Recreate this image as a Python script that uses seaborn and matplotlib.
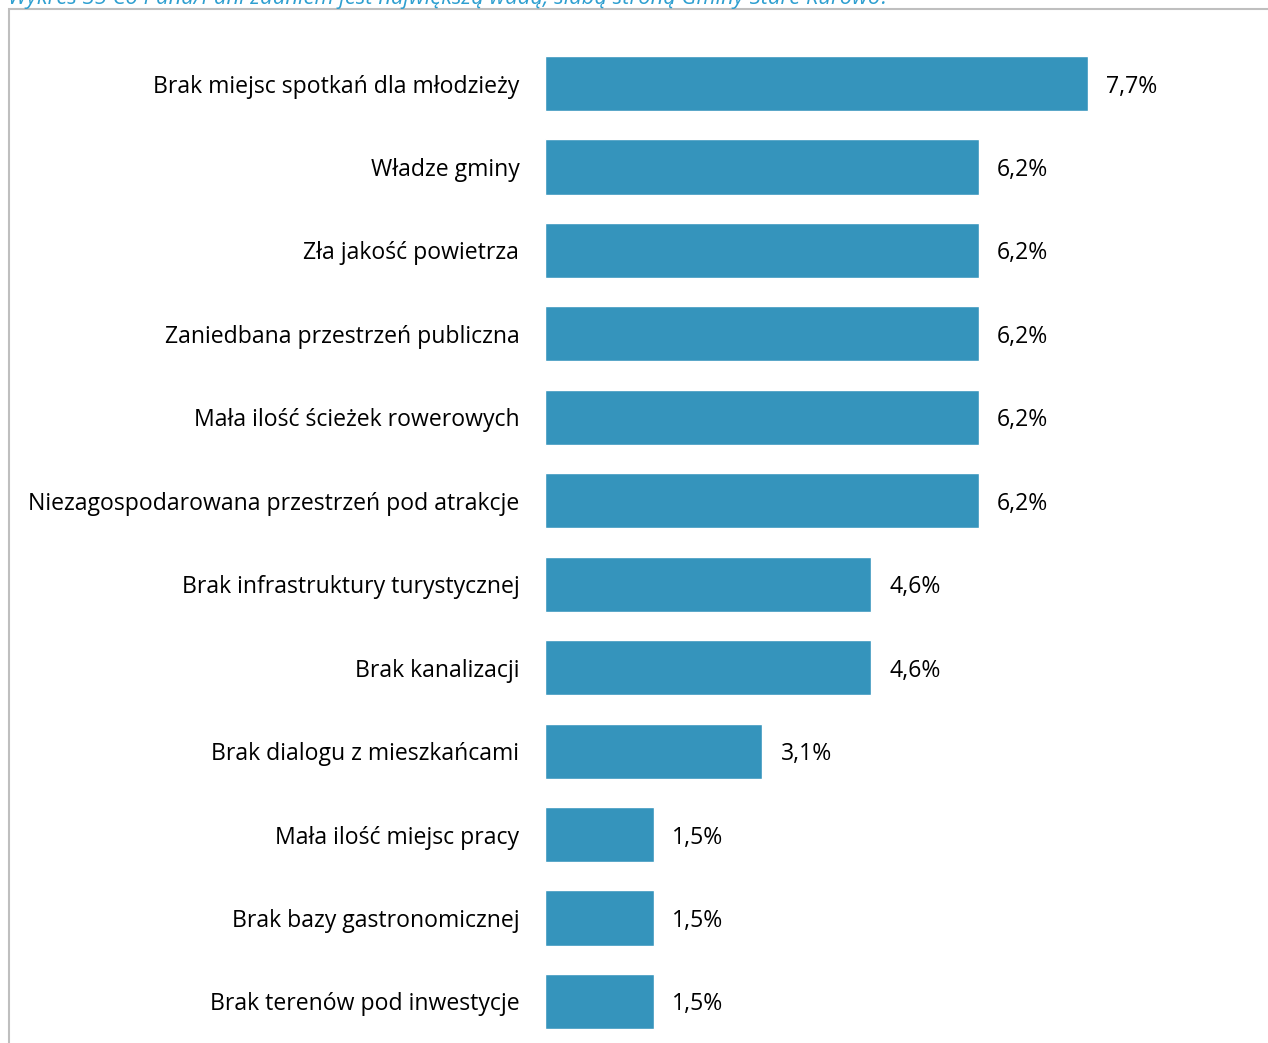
import matplotlib
matplotlib.use("Agg")
import matplotlib.pyplot as plt
from matplotlib.patches import Rectangle
import pandas as pd
import seaborn as sns

categories = [
    "Brak miejsc spotkań dla młodzieży",
    "Władze gminy",
    "Zła jakość powietrza",
    "Zaniedbana przestrzeń publiczna",
    "Mała ilość ścieżek rowerowych",
    "Niezagospodarowana przestrzeń pod atrakcje",
    "Brak infrastruktury turystycznej",
    "Brak kanalizacji",
    "Brak dialogu z mieszkańcami",
    "Mała ilość miejsc pracy",
    "Brak bazy gastronomicznej",
    "Brak terenów pod inwestycje",
]
values = [7.69, 6.15, 6.15, 6.15, 6.15, 6.15, 4.62, 4.62, 3.08, 1.54, 1.54, 1.54]
value_labels = ["7,7%", "6,2%", "6,2%", "6,2%", "6,2%", "6,2%",
                "4,6%", "4,6%", "3,1%", "1,5%", "1,5%", "1,5%"]
title = "Wykres 35 Co Pana/Pani zdaniem jest największą wadą, słabą stroną Gminy Stare Kurowo?"

df = pd.DataFrame({"category": categories, "value": values})

sns.set_theme(style="white")
plt.rcParams["font.family"] = ["Open Sans", "DejaVu Sans"]

W, H = 1268, 1043
fig = plt.figure(figsize=(W / 100, H / 100), dpi=100)

# axes placed so bars start at x=546 px and rows are ~83.5 px apart
left_px = 545
ax = fig.add_axes([left_px / W, -0.2 / H, (W - left_px) / W, 1001.4 / H])

sns.barplot(data=df, x="value", y="category", color="#3594bc", width=0.66,
            saturation=1, ax=ax, orient="h")

ax.set_xlim(0, (W - left_px) / 70.6)
ax.set_xlabel("")
ax.set_ylabel("")
ax.set_xticks([])
ax.tick_params(axis="y", length=0, pad=18.5, labelsize=16.6, labelcolor="black")
for lab in ax.get_yticklabels():
    lab.set_verticalalignment("center_baseline")
for s in ax.spines.values():
    s.set_visible(False)

for i, (v, lab) in enumerate(zip(values, value_labels)):
    ax.annotate(lab, xy=(v, i), xytext=(13, 0), textcoords="offset points",
                va="center_baseline", ha="left", fontsize=16.6, color="black")

# grey frame of the chart area
fig.patches.append(Rectangle((9 / W, -0.1), 1.2, 1 - 9 / H + 0.1,
                             transform=fig.transFigure, fill=False,
                             edgecolor="#bfbfbf", linewidth=1.5, clip_on=False))

# title clipped at the top edge
fig.text(8 / W, 1 - 4 / H, title, ha="left", va="baseline", fontsize=15.8,
         style="italic", color="#2e9fd0")

fig.savefig("out.png", dpi=100)
